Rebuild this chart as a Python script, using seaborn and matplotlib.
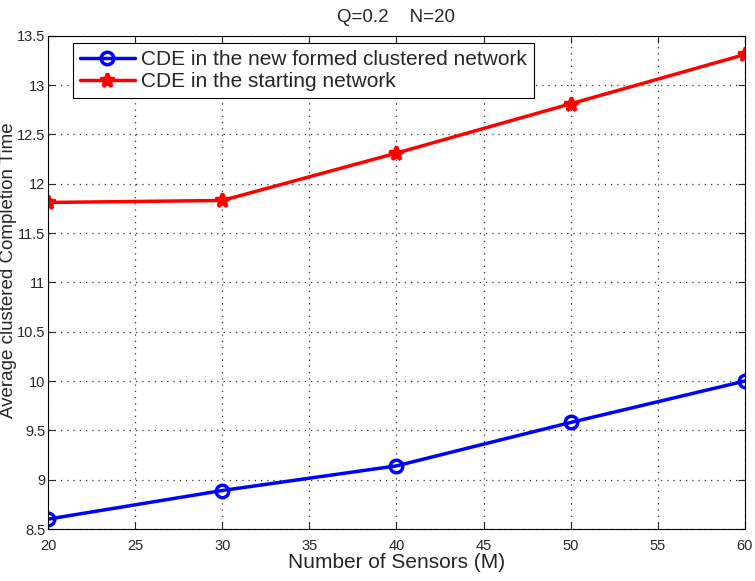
import pandas as pd
import matplotlib.pyplot as plt
import seaborn as sns

sensors = [20, 30, 40, 50, 60]
clustered = [8.60, 8.89, 9.14, 9.58, 10.00]
starting = [11.81, 11.83, 12.31, 12.81, 13.31]
label_clustered = "CDE in the new formed clustered network"
label_starting = "CDE in the starting network"

df = pd.DataFrame({
    "M": sensors * 2,
    "time": clustered + starting,
    "series": [label_clustered] * 5 + [label_starting] * 5,
})

sns.set_style("ticks")
plt.rcParams["font.family"] = ["Liberation Sans", "DejaVu Sans"]

fig = plt.figure(figsize=(7.55, 5.81), dpi=100)
ax = fig.add_axes([0.0636, 0.0895, 0.923, 0.849])

sns.lineplot(
    data=df[df["series"] == label_clustered], x="M", y="time",
    color="#0000ff", marker="o", markersize=9, markerfacecolor="none",
    markeredgecolor="#0000ff", markeredgewidth=2.5, linewidth=2.5,
    label=label_clustered, ax=ax,
)
sns.lineplot(
    data=df[df["series"] == label_starting], x="M", y="time",
    color="#ff0000", marker="*", markersize=10, markerfacecolor="#ff0000",
    markeredgecolor="#ff0000", markeredgewidth=2.5,
    linewidth=2.5, label=label_starting, ax=ax,
)

ax.set_xlim(20, 60)
ax.set_ylim(8.5, 13.5)
ax.set_xticks(range(20, 61, 5))
ax.set_yticks([8.5, 9, 9.5, 10, 10.5, 11, 11.5, 12, 12.5, 13, 13.5])
ax.set_yticklabels(["8.5", "9", "9.5", "10", "10.5", "11", "11.5", "12", "12.5", "13", "13.5"])
ax.tick_params(direction="in", top=True, right=True, labelsize=10.5, length=5)
ax.tick_params(axis="x", pad=7)
ax.tick_params(axis="y", pad=2)
ax.grid(True, linestyle=(0, (1, 4)), color="#333333", linewidth=0.9)
for s in ax.spines.values():
    s.set_color("black")
    s.set_linewidth(0.8)

ax.set_xlabel("Number of Sensors (M)", fontsize=15)
ax.xaxis.set_label_coords(0.5, -0.048)
ax.xaxis.label.set_va("top")
ax.set_ylabel("Average clustered Completion Time", fontsize=13.5)
ax.yaxis.set_label_coords(-0.0445, 0.525)
ax.set_title("Q=0.2    N=20", fontsize=13.5, pad=10)

leg = ax.legend(loc="upper left", bbox_to_anchor=(0.036, 0.986), borderaxespad=0,
                fontsize=15, frameon=True, fancybox=False,
                handlelength=2.6, borderpad=0.35,
                labelspacing=0.15, handletextpad=0.3)
leg.get_frame().set_edgecolor("black")
leg.get_frame().set_linewidth(0.8)
leg.get_frame().set_alpha(1)

fig.savefig("out.png", dpi=100)
